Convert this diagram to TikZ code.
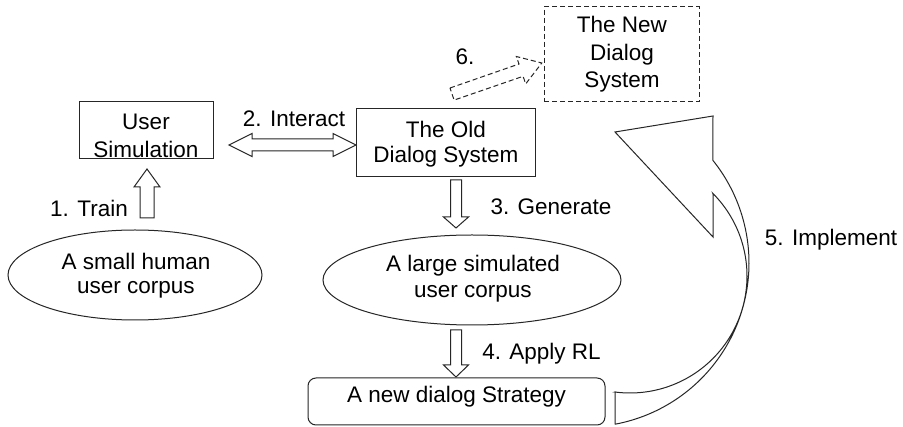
\documentclass[tikz,border=0pt]{standalone}
\usepackage{fontspec}
\setmainfont{Liberation Sans}
\usetikzlibrary{shapes.geometric}
\begin{document}
\begin{tikzpicture}[x=1pt,y=-1pt]
\tikzset{
  outline/.style={draw=black!85, line width=1pt},
  boxnode/.style={outline, rectangle, fill=white, inner sep=0pt},
  ovalnode/.style={outline, ellipse, fill=white, inner sep=0pt},
  dashedline/.style={dash pattern=on 5pt off 3pt},
  lbl/.style={inner sep=0pt, align=center, text=black, font=\fontsize{22.5}{27}\selectfont},
  blockarrow/.style={outline, fill=white, line join=miter},
}
\useasboundingbox (0,0) rectangle (903,427);
\fill[white] (0,0) rectangle (903,427);

% boxes and corpora
\node[boxnode, minimum width=134pt, minimum height=57pt] (usersim) at (146,130.5) {};
\node[boxnode, minimum width=179pt, minimum height=68pt] (oldsys) at (445.5,143) {};
\node[boxnode, dashedline, minimum width=155pt, minimum height=95pt] (newsys) at (621.5,54.5) {};
\node[ovalnode, minimum width=254pt, minimum height=90pt] (smallcorpus) at (135,275) {};
\node[ovalnode, minimum width=298pt, minimum height=90pt] (largecorpus) at (472,280) {};
\node[boxnode, rounded corners=8pt, minimum width=297pt, minimum height=47pt] (strategy) at (456.5,401.5) {};

% texts inside the shapes
\node[lbl, font=\fontsize{22.5}{28}\selectfont] (usersimtext) at (146,135.5) {User\\Simulation};
\node[lbl, font=\fontsize{22.5}{25}\selectfont] (oldsystext) at (446,144.5) {The Old\\Dialog System};
\node[lbl, font=\fontsize{22.5}{27.5}\selectfont] (newsystext) at (622,54.5) {The New\\Dialog\\System};
\node[lbl, font=\fontsize{22.5}{24}\selectfont] (smalltext) at (136,276) {A small human\\user corpus};
\node[lbl, font=\fontsize{22.5}{26}\selectfont] (largetext) at (473,279) {A large simulated\\user corpus};
\node[lbl, anchor=base] (strategytext) at (456.5,403) {A new dialog Strategy};

% step labels
\node[lbl, anchor=base] (step1) at (89,217) {1. Train};
\node[lbl, anchor=base] (step2) at (294,127) {2. Interact};
\node[lbl, anchor=base] (step3) at (551,215) {3. Generate};
\node[lbl, anchor=base] (step4) at (541.5,360) {4. Apply RL};
\node[lbl, anchor=base] (step5) at (831,246) {5. Implement};
\node[lbl, anchor=base] (step6) at (465,65) {6.};

% 1. train: block arrow up
\draw[blockarrow] (147,169) -- (160,187) -- (154,187) -- (154,218)
  -- (140,218) -- (140,187) -- (134,187) -- cycle;

% 2. interact: double-headed block arrow
\draw[blockarrow] (229,145) -- (252,133.5) -- (252,139) -- (333,139)
  -- (333,133.5) -- (356,145) -- (333,156.5) -- (333,151)
  -- (252,151) -- (252,156.5) -- cycle;

% 3. generate: block arrow down
\draw[blockarrow] (450.5,180) -- (461.5,180) -- (461.5,217) -- (468.5,217)
  -- (456,228) -- (443.5,217) -- (450.5,217) -- cycle;

% 4. apply RL: block arrow down
\draw[blockarrow] (450.5,330) -- (461.5,330) -- (461.5,365) -- (468.5,365)
  -- (456,377) -- (443.5,365) -- (450.5,365) -- cycle;

% 5. implement: curved block arrow
\draw[blockarrow] (615,392) -- (615,424)
  -- plot[domain=79.4:-38.8, samples=80, variable=\t] ({585+164*cos(\t)},{263+164*sin(\t)})
  -- (713,116) -- (615,132) -- (713,237) -- (713,194)
  -- plot[domain=-45:97.4, samples=80, variable=\t] ({630+117*cos(\t)},{276+117*sin(\t)})
  -- cycle;

% 6. dashed block arrow towards the new system
\draw[blockarrow, dashedline] (450,88) -- (519,64) -- (516.3,56.5) -- (541.8,63)
  -- (525.7,83.9) -- (523.1,76.3) -- (454.1,100.1) -- cycle;
\end{tikzpicture}
\end{document}
